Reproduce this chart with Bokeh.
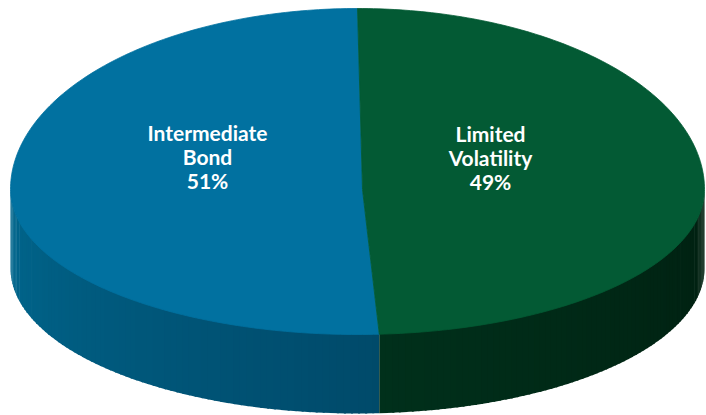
import math
from bokeh.plotting import figure
from bokeh.models import Range1d, ColumnDataSource
from bokeh.core.properties import value
from bokeh.embed import file_html
from bokeh.resources import INLINE

# ---- data ----
categories = ["Intermediate Bond", "Limited Volatility"]
shares = [51, 49]
label_lines = [["Intermediate", "Bond", "51%"], ["Limited", "Volatility", "49%"]]

# ---- style / layout ----
top_colors = ["#0171A0", "#035A34"]
side_grad = [("#00678E", "#004A6A"), ("#00301B", "#001F10")]
W, H = 706, 415
CX, CY = 357, 189          # ellipse centre (image px)
A, B_TOP, B_BOT = 347, 181, 145
DEPTH = 79
VX = CX + 5                # wedge vertex x
label_pos = [(207, 156), (490, 157)]   # middle line centres (image px)
line_gap = 24

def to_plot(X, Y):
    return X, H - Y

def rim(t):
    s = math.sin(t)
    b = B_TOP if s > 0 else B_BOT
    return CX + A * math.cos(t), CY - b * s

def mix(c1, c2, f):
    a = [int(c1[i:i+2], 16) for i in (1, 3, 5)]
    b = [int(c2[i:i+2], 16) for i in (1, 3, 5)]
    return "#%02x%02x%02x" % tuple(round(a[k] + (b[k] - a[k]) * f) for k in range(3))

p = figure(width=W, height=H, x_range=Range1d(0, W), y_range=Range1d(0, H),
           output_backend="svg", toolbar_location=None, min_border=0)
p.axis.visible = False
p.grid.visible = False
p.outline_line_color = None
p.background_fill_color = "white"

total = sum(shares)
start = math.pi / 2
bounds = []
for v in shares:
    end = start + 2 * math.pi * v / total
    bounds.append((start, end))
    start = end

# sides (front half only: angles between pi and 2pi)
sx, sy, sc = [], [], []
for i, (a0, a1) in enumerate(bounds):
    lo, hi = max(a0, math.pi), min(a1, 2 * math.pi)
    if hi <= lo:
        continue
    n = 80
    for k in range(n):
        t0 = lo + (hi - lo) * k / n
        t1 = min(hi, lo + (hi - lo) * (k + 1) / n + 0.006)
        X0, Y0 = rim(t0)
        X1, Y1 = rim(t1)
        poly = [(X0, Y0 - 1), (X1, Y1 - 1), (X1, Y1 + DEPTH), (X0, Y0 + DEPTH)]
        xs, ys = zip(*[to_plot(x, y) for x, y in poly])
        sx.append(list(xs)); sy.append(list(ys))
        sc.append(mix(side_grad[i][0], side_grad[i][1], (k + 0.5) / n))
p.patches(xs="xs", ys="ys", fill_color="c", line_color=None,
          source=ColumnDataSource(dict(xs=sx, ys=sy, c=sc)))

# top face
tx, ty = [], []
for (a0, a1) in bounds:
    n = 200
    poly = [(VX, CY)] + [rim(a0 + (a1 - a0) * k / n) for k in range(n + 1)]
    xs, ys = zip(*[to_plot(x, y) for x, y in poly])
    tx.append(list(xs)); ty.append(list(ys))
p.patches(xs="xs", ys="ys", fill_color="c", line_color="c", line_width=0.8,
          source=ColumnDataSource(dict(xs=tx, ys=ty, c=top_colors)))

# labels
lx, ly, lt = [], [], []
for (X, Y), lines in zip(label_pos, label_lines):
    for j, s in enumerate(lines):
        px, py = to_plot(X, Y + (j - 1) * line_gap)
        lx.append(px); ly.append(py); lt.append(s)
p.text(x="x", y="y", text="t", source=ColumnDataSource(dict(x=lx, y=ly, t=lt)),
       text_color="white", text_font=value("Lato"),
       text_font_style="bold", text_font_size="21px",
       text_align="center", text_baseline="middle")

open("out.html", "w").write(file_html(p, INLINE))
